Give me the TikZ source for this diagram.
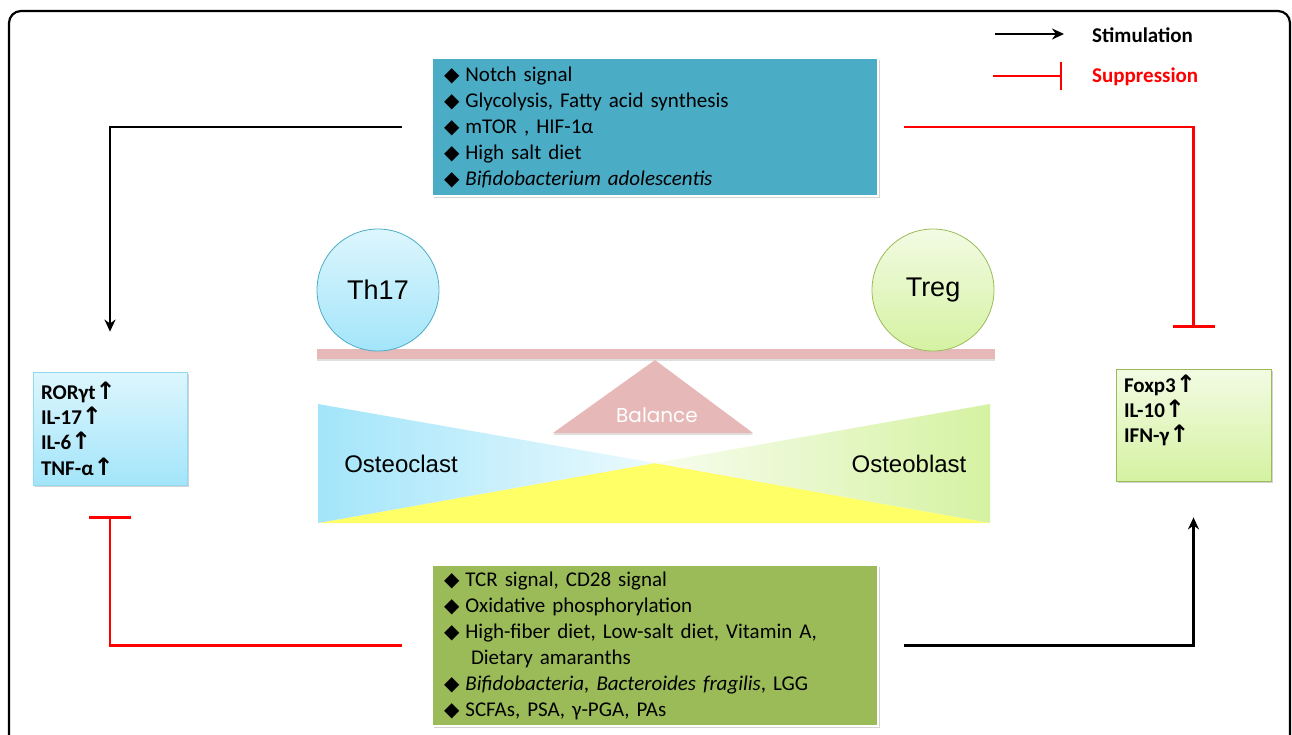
\documentclass[tikz,border=0pt]{standalone}
\usepackage{fontspec}
\setmainfont{Carlito}[WordSpace={0.85,0.5,0.5}]
\newfontfamily\arialf{Liberation Sans}
\newfontfamily\dejavuf{DejaVu Sans}
\newfontfamily\gothicf{Poppins}
\frenchspacing
\usetikzlibrary{arrows.meta,shadows}
\definecolor{topblue}{HTML}{4BACC6}
\definecolor{botgreen}{HTML}{9BBB59}
\definecolor{beamc}{HTML}{E6B9B8}
\definecolor{cyanlt}{HTML}{DDF6FD}
\definecolor{cyandk}{HTML}{A3E5FA}
\definecolor{greenlt}{HTML}{F2FBE3}
\definecolor{greendk}{HTML}{D5F2A2}
\definecolor{cyanedge}{HTML}{4BACC6}
\definecolor{yel}{HTML}{FFFF66}
\newcommand\dia{{\dejavuf\fontsize{20}{26}\selectfont ◆}\hspace{6pt}}
\newcommand\upar{{\dejavuf\fontsize{24}{25}\selectfont ↑}}
\newcommand\boxfont{\fontsize{21}{26}\selectfont}
\newcommand\markfont{\bfseries\fontsize{21}{25.3}\selectfont}
\tikzset{
  listbox/.style={rectangle, draw=white, line width=2.5pt, text=black,
    font=\boxfont, align=left, inner xsep=12pt, inner ysep=0pt,
    drop shadow={shadow xshift=1.5pt, shadow yshift=-2pt, opacity=0.35, fill=gray}},
  markbox/.style={rectangle, line width=0.8pt, font=\markfont, align=left,
    inner xsep=8pt, inner ysep=0pt,
    drop shadow={shadow xshift=1.5pt, shadow yshift=-2pt, opacity=0.35, fill=gray}},
  cell/.style={circle, minimum size=122pt, inner sep=0pt, line width=0.8pt,
    font=\arialf\fontsize{27}{30}\selectfont},
  stim/.style={draw=black, line width=2.5pt, -{Stealth[length=12pt,width=11pt]}},
  supp/.style={draw=red, line width=2.5pt, -{Bar[width=42pt]}},
  legtxt/.style={anchor=west, font=\bfseries\fontsize{21}{24}\selectfont, inner sep=0pt},
  bonelbl/.style={font=\arialf\fontsize{24}{26}\selectfont, inner sep=0pt}
}
\begin{document}
\begin{tikzpicture}[x=1pt,y=-1pt]
\useasboundingbox (0,0) rectangle (1292,734);
\clip (0,0) rectangle (1292,734);
% frame
\draw[line width=2.2pt, rounded corners=12pt] (9,11) rectangle (1290,780);

% legend
\coordinate (ls1) at (995,34);
\coordinate (ls2) at (1064,34);
\coordinate (lp1) at (993,76);
\coordinate (lp2) at (1062,76);
\draw[stim] (ls1) -- (ls2);
\draw[draw=red, line width=2.5pt, -{Bar[width=28pt]}] (lp1) -- (lp2);
\node[legtxt] (stimtxt) at (1092,35) {Stimulation};
\node[legtxt, text=red] (supptxt) at (1092,77) {Suppression};

% top and bottom boxes
\node[listbox, fill=topblue, minimum width=446pt, minimum height=138pt, text width=422pt] (topbox) at (655,127) {%
\dia Notch signal\\
\dia Glycolysis, Fatty acid synthesis\\
\dia mTOR , HIF-1α\\
\dia High salt diet\\
\dia \textit{Bifidobacterium adolescentis}};

\node[listbox, fill=botgreen, minimum width=446pt, minimum height=161pt, text width=422pt] (botbox) at (655,645.5) {%
\dia TCR signal, CD28 signal\\
\dia Oxidative phosphorylation\\
\dia High-fiber diet, Low-salt diet, Vitamin A,\\
\hspace*{27pt}Dietary amaranths\\
\dia \textit{Bifidobacteria, Bacteroides fragilis}, LGG\\
\dia SCFAs, PSA, γ-PGA, PAs};

% side boxes
\node[markbox, draw=cyandk!80!cyanedge, top color=cyanlt, bottom color=cyandk,
  minimum width=154pt, minimum height=113pt, text width=138pt] (leftbox) at (110,428.5) {%
RORγt\upar\\IL-17\upar\\IL-6\upar\\TNF-α\upar};
\node[markbox, draw=botgreen, top color=greenlt, bottom color=greendk,
  minimum width=155pt, minimum height=112pt, text width=139pt] (rightbox) at (1193.5,425) {%
Foxp3\upar\\IL-10\upar\\IFN-γ\upar\\\strut};

% balance
\fill[beamc, drop shadow={shadow xshift=0pt, shadow yshift=-2pt, opacity=0.25, fill=gray}] (317,349) rectangle (995,359);
\coordinate (apex) at (655,360);
\fill[beamc, drop shadow={shadow xshift=0pt, shadow yshift=-2pt, opacity=0.25, fill=gray}] (apex) -- (753,433) -- (553,433) -- cycle;
\node[text=white, font=\gothicf\fontsize{20}{24}\selectfont, inner sep=0pt] (bal) at (657,415) {Balance};

\node[cell, draw=cyanedge, top color=cyanlt, bottom color=cyandk] (th17) at (378,290) {Th17};
\node[cell, draw=botgreen, top color=greenlt, bottom color=greendk] (treg) at (933,290) {Treg};

% bow tie
\coordinate (mid) at (655,463);
\fill[yel] (318,523) -- (990,523) -- (mid) -- cycle;
\shade[left color=cyandk, right color=cyanlt!60!white] (318,404) -- (318,523) -- (mid) -- cycle;
\shade[left color=greenlt!60!white, right color=greendk] (990,404) -- (990,523) -- (mid) -- cycle;
\node[bonelbl] (oc) at (401,464) {Osteoclast};
\node[bonelbl] (ob) at (909,464) {Osteoblast};

% connectors
\draw[stim, shorten <=29pt, shorten >=40pt] (topbox.west) -| (leftbox.north);
\draw[supp, shorten <=25pt, shorten >=41pt] (topbox.east) -| (rightbox.north);
\draw[supp, shorten <=29pt, shorten >=31pt] (botbox.west) -| (leftbox.south);
\draw[stim, shorten <=25pt, shorten >=36pt] (botbox.east) -| (rightbox.south);
\end{tikzpicture}
\end{document}
